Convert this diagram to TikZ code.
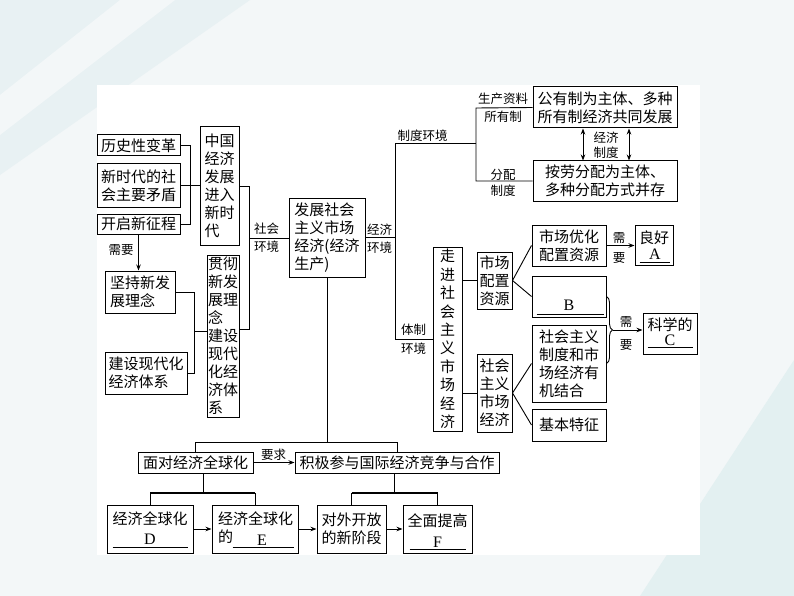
\documentclass[tikz,border=0pt]{standalone}
\usepackage{fontspec}
\setmainfont{Liberation Serif}
\newfontfamily\cjk{Noto Sans CJK SC}
\usetikzlibrary{arrows.meta,decorations.pathreplacing,calc}
\definecolor{bgc}{HTML}{F3F7F8}
\definecolor{bgd}{HTML}{E8F1F3}
\definecolor{bge}{HTML}{E3F0F1}
\begin{document}
\begin{tikzpicture}[x=1pt,y=-1pt,
 box/.style={draw, line width=1pt, inner sep=0pt, align=left, font=\cjk\fontsize{15}{18}\selectfont},
 txt/.style={inner sep=0pt, align=left, font=\cjk\fontsize{15}{18}\selectfont},
 letter/.style={inner sep=0pt, font=\rmfamily\fontsize{16}{18}\selectfont},
 lab/.style={inner sep=0pt, font=\cjk\fontsize{12.5}{15}\selectfont},
 ln/.style={line width=0.9pt},
 boldln/.style={line width=1.8pt},
 arr/.style={ln, -{Stealth[length=6pt,width=4.5pt]}},
 darr/.style={ln, {Stealth[length=6pt,width=4.5pt]}-{Stealth[length=6pt,width=4.5pt]}},
]
% background
\fill[bgc] (0,0) rectangle (794,596);
\fill[bgd] (0,0) -- (250,0) -- (0,175) -- cycle;
\fill[bgc] (0,95) -- (120,0) -- (175,0) -- (0,135) -- cycle;
\fill[bge] (794,360) -- (794,596) -- (640,596) -- cycle;
\fill[white] (97,85) rectangle (700,555);
\path[use as bounding box] (0,0) rectangle (794,596);

% left group
\node[box, minimum width=83pt, minimum height=21pt] (hist) at (138.5,145.5) {历史性变革};
\node[box, minimum width=83pt, minimum height=43pt] (newera) at (138.5,185.5) {新时代的社\\会主要矛盾};
\node[box, minimum width=83pt, minimum height=20pt] (kaiqi) at (138.5,224) {开启新征程};
\node[box, minimum width=39pt, minimum height=118pt] (china) at (219.5,186) {中国\\经济\\发展\\进入\\新时\\代};
\node[box, minimum width=70pt, minimum height=42pt] (jianchi) at (140,292) {坚持新发\\展理念};
\node[box, minimum width=82pt, minimum height=42pt] (jianshe) at (146,373) {建设现代化\\经济体系};
\node[box, minimum width=32pt, minimum height=162pt] (guanche) at (223,336) {贯彻\\新发\\展理\\念\\建设\\现代\\化经\\济体\\系};
\node[box, minimum width=76pt, minimum height=79pt] (main) at (327,237.5) {发展社会\\主义市场\\经济(经济\\生产)};

% top right
\node[box, minimum width=144pt, minimum height=41pt] (gongyou) at (605,107.5) {公有制为主体、多种\\所有制经济共同发展};
\node[box, minimum width=144pt, minimum height=40pt] (anlao) at (605,181) {按劳分配为主体、\\多种分配方式并存};

% market economy group
\node[box, minimum width=29pt, minimum height=184pt, font=\cjk\fontsize{15}{18.4}\selectfont] (zoujin) at (447.5,339) {走\\进\\社\\会\\主\\义\\市\\场\\经\\济};
\node[box, minimum width=35pt, minimum height=57pt] (scpz) at (494.5,280.5) {市场\\配置\\资源};
\node[box, minimum width=35pt, minimum height=78pt] (shzy) at (494.5,393) {社会\\主义\\市场\\经济};
\node[box, minimum width=74pt, minimum height=41pt] (youhua) at (569,245.5) {市场优化\\配置资源};
\node[box, minimum width=74pt, minimum height=41pt] (boxB) at (569,296.5) {};
\node[box, minimum width=74pt, minimum height=77pt] (jiehe) at (569,363.5) {社会主义\\制度和市\\场经济有\\机结合};
\node[box, minimum width=74pt, minimum height=32pt] (jiben) at (569,425) {基本特征};
\node[box, minimum width=38pt, minimum height=40pt] (liang) at (654,245) {};
\node[box, minimum width=54pt, minimum height=41pt] (kexue) at (670,333.5) {};

% bottom
\node[box, minimum width=115pt, minimum height=21pt] (miandui) at (195.5,462.5) {面对经济全球化};
\node[box, minimum width=204pt, minimum height=21pt] (jiji) at (397,462.5) {积极参与国际经济竞争与合作};
\node[box, minimum width=86pt, minimum height=48pt] (D) at (150,529) {};
\node[box, minimum width=86pt, minimum height=48pt] (E) at (255,529) {};
\node[box, minimum width=69pt, minimum height=48pt] (duiwai) at (351.5,529) {对外开放\\的新阶段};
\node[box, minimum width=69pt, minimum height=48pt] (F) at (437.5,529) {};

% texts inside answer boxes
\node[txt] (Dt) at (150,518.5) {经济全球化};
\node[letter] (Dl) at (150,539.5) {D};
\draw[ln] ([xshift=6pt,yshift=6pt]D.south west) -- ([xshift=-6pt,yshift=6pt]D.south east);
\node[txt] (Et) at (255.5,518.5) {经济全球化};
\node[txt] (Ede) at (225.5,537) {的};
\node[letter] (El) at (262,540) {E};
\draw[ln] ([xshift=21pt,yshift=6pt]E.south west) -- ([xshift=-5pt,yshift=6pt]E.south east);
\node[txt] (Ft) at (437.5,520.5) {全面提高};
\node[letter] (Fl) at (437.5,542) {F};
\draw[ln] ([xshift=7pt,yshift=4pt]F.south west) -- ([xshift=-7pt,yshift=4pt]F.south east);
\node[txt] (At) at (654,237.5) {良好};
\node[letter] (Al) at (655,254) {A};
\draw[ln] ([xshift=5pt,yshift=3pt]liang.south west) -- ([xshift=-4pt,yshift=3pt]liang.south east);
\node[letter] (Bl) at (569,305) {B};
\draw[ln] ([xshift=5pt,yshift=3pt]boxB.south west) -- ([xshift=-3pt,yshift=3pt]boxB.south east);
\node[txt] (Ct) at (670,324.5) {科学的};
\node[letter] (Cl) at (670,340) {C};
\draw[ln] ([xshift=5pt,yshift=7pt]kexue.south west) -- ([xshift=-5pt,yshift=7pt]kexue.south east);

% left connectors
\coordinate (b1) at (190,186);
\draw[ln] (hist.east) -| (b1);
\draw[ln] (kaiqi.east) -| (b1);
\draw[ln] (newera.east) -- (newera.east -| china.west);
\draw[arr] (kaiqi.south) -- (kaiqi.south |- jianchi.north);
\node[lab] (xuyao1) at (121,250) {需要};
\coordinate (b2) at (194,331);
\draw[ln] (jianchi.east) -| (b2);
\draw[ln] (jianshe.east) -| (b2);
\draw[ln] (b2) -- (b2 -| guanche.west);
\coordinate (b3) at (249,238);
\draw[ln] (china.east) -| (b3);
\draw[ln] ([yshift=7pt]guanche.east) -| (b3);
\draw[ln] (b3) -- (b3 -| main.west);
\node[lab] (sh1) at (266.5,229) {社会};
\node[lab] (sh2) at (266.5,246.5) {环境};

% right connectors
\coordinate (zd) at (395,143);
\coordinate (b5t) at (476,108);
\coordinate (b5b) at (476,181);
\draw[ln] (main.east) -- (main.east -| zd);
\draw[ln] (zoujin.west) -| (zd) -- (zd -| b5t);
\draw[ln] (gongyou.west) -- (b5t) -- (b5b) -- (anlao.west);
\node[lab] (jj1) at (379.5,229.5) {经济};
\node[lab] (jj2) at (379.5,247.5) {环境};
\node[lab] (zdhj) at (422.5,136) {制度环境};
\node[lab] (tz1) at (413.5,330) {体制};
\node[lab] (tz2) at (413.5,349) {环境};
\node[lab] (sczl) at (503,98.5) {生产资料};
\node[lab] (syz) at (503,117) {所有制};
\node[lab] (fp1) at (503,174.5) {分配};
\node[lab] (fp2) at (503,190.5) {制度};
\draw[darr] ([xshift=-22pt]gongyou.south) -- ([xshift=-22pt]anlao.north);
\draw[darr] ([xshift=24pt]gongyou.south) -- ([xshift=24pt]anlao.north);
\node[lab] (jjzd1) at (606,138) {经济};
\node[lab] (jjzd2) at (606,152.5) {制度};

\draw[ln] (scpz.west) -- (scpz.west -| zoujin.east);
\draw[ln] (shzy.west) -- (shzy.west -| zoujin.east);
\draw[ln] (scpz.east) -- (youhua.west);
\draw[ln] (scpz.east) -- (boxB.west);
\draw[ln] (shzy.east) -- (jiehe.west);
\draw[ln] (shzy.east) -- (jiben.west);
\draw[arr] (youhua.east) -- (youhua.east -| liang.west);
\node[lab] (xu2) at (619,238) {需};
\node[lab] (yao2) at (619,258.5) {要};
\draw[ln, decorate, decoration={brace, amplitude=6pt}] (boxB.east) -- (jiehe.east);
\coordinate (bt) at ($(boxB.east)!0.5!(jiehe.east)+(6,0)$);
\draw[arr] (bt) -- (bt -| kexue.west);
\node[lab] (xu3) at (626,322) {需};
\node[lab] (yao3) at (626,345) {要};

% bottom connectors
\coordinate (h1) at (327,442);
\draw[ln] (main.south) -- (h1);
\draw[ln] (miandui.north) -- (miandui.north |- h1) -- (jiji.north |- h1) -- (jiji.north);
\draw[arr] (miandui.east) -- (jiji.west);
\node[lab] (yq) at (273.5,455) {要求};
\coordinate (m1) at (203,493);
\coordinate (m2) at (394,493);
\draw[ln] (miandui.south -| m1) -- (m1);
\draw[ln] (jiji.south -| m2) -- (m2);
\draw[boldln] (D.north |- m1) -- (E.north |- m1);
\draw[boldln] (duiwai.north |- m2) -- (F.north |- m2);
\draw[ln] (D.north) -- (D.north |- m1);
\draw[ln] (E.north) -- (E.north |- m1);
\draw[ln] (duiwai.north) -- (duiwai.north |- m2);
\draw[ln] (F.north) -- (F.north |- m2);
\draw[arr] (D.east) -- (E.west);
\draw[arr] (E.east) -- (duiwai.west);
\draw[arr] (duiwai.east) -- (F.west);
\end{tikzpicture}
\end{document}
